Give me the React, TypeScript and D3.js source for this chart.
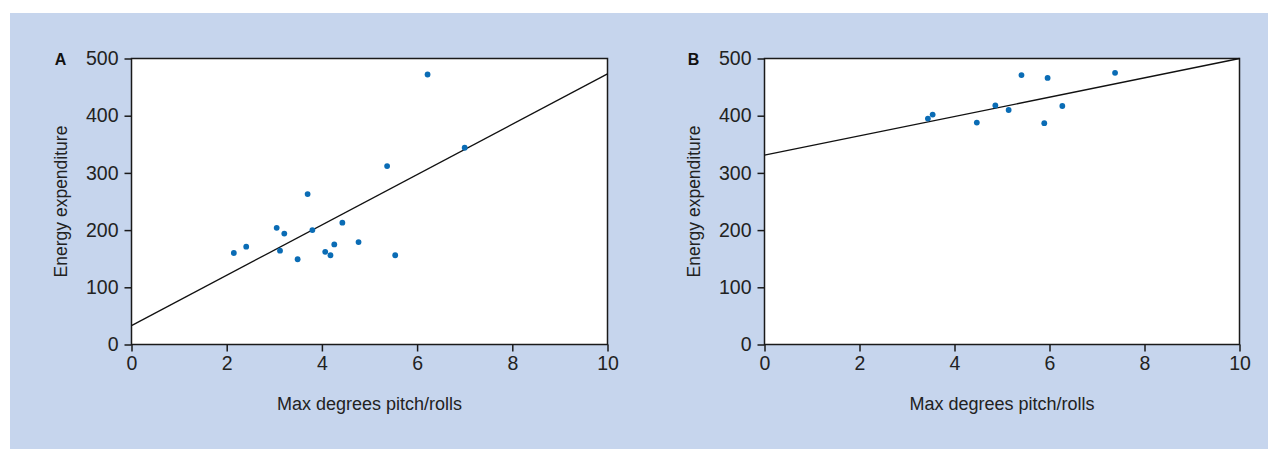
import React, { useEffect, useRef } from "react";
import * as d3 from "d3";

const panelLabels = ["A", "B"];
const xTicks = [0, 2, 4, 6, 8, 10];
const yTicks = [0, 100, 200, 300, 400, 500];
const xTitle = "Max degrees pitch/rolls";
const yTitle = "Energy expenditure";

const aX = [2.15, 2.41, 3.05, 3.12, 3.21, 3.49, 3.70, 3.80, 4.07, 4.18, 4.26, 4.43, 4.77, 5.37, 5.54, 6.22, 7.00];
const aY = [160, 171, 204, 164, 194, 149, 263, 200, 162, 156, 175, 213, 179, 312, 156, 472, 344];
const aLine = [33, 473]; // y at x=0 and x=10

const bX = [3.44, 3.54, 4.47, 4.86, 5.14, 5.41, 5.89, 5.96, 6.27, 7.38];
const bY = [395, 402, 388, 418, 410, 471, 387, 466, 417, 475];
const bLine = [331, 500];

const W = 1269;
const H = 449;
const FONT = "'Liberation Sans', Arial, sans-serif";

export default function App() {
  const ref = useRef<SVGSVGElement>(null);
  useEffect(() => {
    const svg = d3.select(ref.current);
    svg.selectAll("*").remove();
    svg.append("rect").attr("x", 10).attr("y", 13).attr("width", 1258).attr("height", H - 13).attr("fill", "#c6d5ed");

    const panels = [
      { label: panelLabels[0], xs: aX, ys: aY, line: aLine, left: 131.5, right: 607.5 },
      { label: panelLabels[1], xs: bX, ys: bY, line: bLine, left: 764.5, right: 1239.5 },
    ];
    const top = 58.5;
    const bottom = 344.5;

    panels.forEach((p) => {
      const x = d3.scaleLinear().domain([0, 10]).range([p.left, p.right]);
      const y = d3.scaleLinear().domain([0, 500]).range([bottom, top]);
      const g = svg.append("g");
      g.append("rect").attr("x", p.left).attr("y", top).attr("width", p.right - p.left).attr("height", bottom - top)
        .attr("fill", "#fff").attr("stroke", "#1a1a1a").attr("stroke-width", 1.5);

      const xa = g.append("g").attr("transform", `translate(0,${bottom})`)
        .call(d3.axisBottom(x).tickValues(xTicks).tickSize(7).tickPadding(5).tickFormat(d3.format("d")));
      const ya = g.append("g").attr("transform", `translate(${p.left},0)`)
        .call(d3.axisLeft(y).tickValues(yTicks).tickSize(7).tickPadding(6).tickFormat(d3.format("d")));
      [xa, ya].forEach((a) => {
        a.select(".domain").remove();
        a.selectAll("line").attr("stroke", "#1a1a1a").attr("stroke-width", 1.5);
        a.selectAll("text").attr("font-family", FONT).attr("font-size", 19.5).attr("fill", "#222");
      });

      const line = d3.line<[number, number]>().x((d) => x(d[0])).y((d) => y(d[1]));
      g.append("path").attr("d", line([[0, p.line[0]], [10, p.line[1]]]))
        .attr("stroke", "#111").attr("stroke-width", 1.3).attr("fill", "none");

      g.selectAll("circle.pt").data(p.xs.map((v, i) => [v, p.ys[i]])).enter().append("circle")
        .attr("cx", (d) => x(d[0])).attr("cy", (d) => y(d[1])).attr("r", 2.9).attr("fill", "#0a6cb5");

      g.append("text").attr("x", (p.left + p.right) / 2).attr("y", 410).attr("text-anchor", "middle")
        .attr("font-family", FONT).attr("font-size", 18).attr("fill", "#222").text(xTitle);
      g.append("text").attr("transform", `translate(${p.left - 65},${(top + bottom) / 2}) rotate(-90)`)
        .attr("text-anchor", "middle").attr("font-family", FONT).attr("font-size", 17.5).attr("fill", "#222").text(yTitle);
      g.append("text").attr("x", p.left - 71).attr("y", 65).attr("text-anchor", "middle")
        .attr("font-family", FONT).attr("font-weight", "bold").attr("font-size", 16).attr("fill", "#111").text(p.label);
    });
  }, []);
  return <svg ref={ref} width={W} height={H} style={{ position: "absolute", left: 0, top: 0 }} />;
}
